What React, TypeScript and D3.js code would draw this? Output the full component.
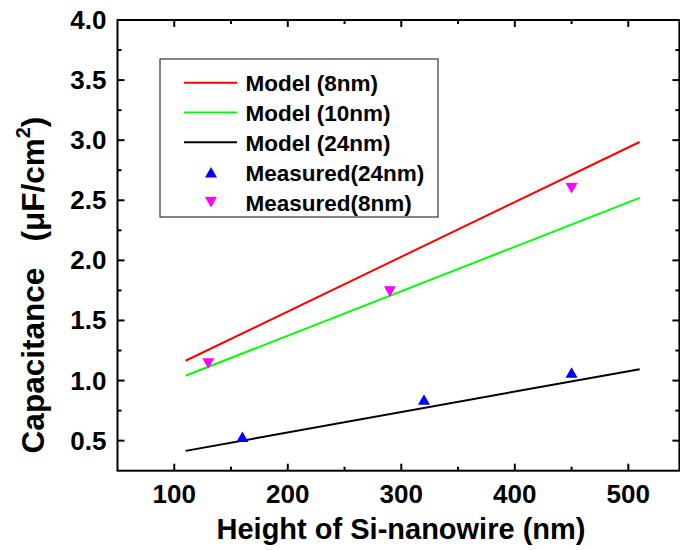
import * as d3 from 'd3'

// model curves (two end points each)
const modelX = [110, 510]
const model8 = [1.165, 2.985]
const model10 = [1.04, 2.52]
const model24 = [0.415, 1.095]

// measured points
const meas24X = [160, 320, 450]
const meas24Y = [0.533, 0.842, 1.067]
const meas8X = [130, 290, 450]
const meas8Y = [1.142, 1.74, 2.6]

const xTicks = [100, 200, 300, 400, 500]
const xMinor = [150, 250, 350, 450]
const yTicks = [0.5, 1.0, 1.5, 2.0, 2.5, 3.0, 3.5, 4.0]
const yMinor = [0.75, 1.25, 1.75, 2.25, 2.75, 3.25, 3.75]

const legendItems = [
    { label: 'Model (8nm)', color: '#FF0000', kind: 'line' },
    { label: 'Model (10nm)', color: '#00FF00', kind: 'line' },
    { label: 'Model (24nm)', color: '#000000', kind: 'line' },
    { label: 'Measured(24nm)', color: '#0000FF', kind: 'up' },
    { label: 'Measured(8nm)', color: '#FF00FF', kind: 'down' },
]

const FONT = "'Liberation Sans', Arial, Helvetica, sans-serif"

const left = 117.5
const right = 679.4
const top = 20
const bottom = 470.7

function tri(cx: number, cy: number, up: boolean) {
    const w = 6
    const h = 5.3
    return up
        ? `M${cx},${cy - h}L${cx + w},${cy + h}L${cx - w},${cy + h}Z`
        : `M${cx},${cy + h}L${cx + w},${cy - h}L${cx - w},${cy - h}Z`
}

export default function App() {
    const x = d3.scaleLinear().domain([50, 545]).range([left, right])
    const y = d3.scaleLinear().domain([0.25, 4.0]).range([bottom, top])

    const line = d3
        .line<number>()
        .x((d, i) => x(modelX[i]))
        .y((d) => y(d))

    const models = [
        { data: model8, color: '#FF0000' },
        { data: model10, color: '#00FF00' },
        { data: model24, color: '#000000' },
    ]

    const legendRows = [82.7, 112.5, 142.3, 172.2, 202.3]

    return (
        <svg
            width={680}
            height={550}
            style={{ position: 'absolute', left: 0, top: 0, background: '#fff' }}
            fontFamily={FONT}
        >
            <rect x={0} y={0} width={680} height={550} fill="#fff" />

            {/* model lines */}
            {models.map((m, i) => (
                <path key={i} d={line(m.data) || ''} fill="none" stroke={m.color} strokeWidth={2} />
            ))}

            {/* measured points */}
            {meas24X.map((v, i) => (
                <path key={'b' + i} d={tri(x(v), y(meas24Y[i]), true)} fill="#0000FF" />
            ))}
            {meas8X.map((v, i) => (
                <path key={'m' + i} d={tri(x(v), y(meas8Y[i]), false)} fill="#FF00FF" />
            ))}

            {/* frame */}
            <rect
                x={left}
                y={top}
                width={right - left}
                height={bottom - top}
                fill="none"
                stroke="#000"
                strokeWidth={2}
            />

            {/* x ticks, bottom and top */}
            {xTicks.map((t) => (
                <g key={'xt' + t}>
                    <line x1={x(t)} x2={x(t)} y1={bottom} y2={bottom - 7} stroke="#000" strokeWidth={2} />
                    <line x1={x(t)} x2={x(t)} y1={top} y2={top + 7} stroke="#000" strokeWidth={2} />
                    <text x={x(t)} y={503} textAnchor="middle" fontSize={26} fontWeight="bold">
                        {t}
                    </text>
                </g>
            ))}
            {xMinor.map((t) => (
                <g key={'xm' + t}>
                    <line x1={x(t)} x2={x(t)} y1={bottom} y2={bottom - 4} stroke="#000" strokeWidth={2} />
                    <line x1={x(t)} x2={x(t)} y1={top} y2={top + 4} stroke="#000" strokeWidth={2} />
                </g>
            ))}

            {/* y ticks, left and right */}
            {yTicks.map((t) => (
                <g key={'yt' + t}>
                    <line x1={left} x2={left + 7} y1={y(t)} y2={y(t)} stroke="#000" strokeWidth={2} />
                    <line x1={right} x2={right - 7} y1={y(t)} y2={y(t)} stroke="#000" strokeWidth={2} />
                    <text x={left - 11} y={y(t) + 9} textAnchor="end" fontSize={26} fontWeight="bold">
                        {t.toFixed(1)}
                    </text>
                </g>
            ))}
            {yMinor.map((t) => (
                <g key={'ym' + t}>
                    <line x1={left} x2={left + 4} y1={y(t)} y2={y(t)} stroke="#000" strokeWidth={2} />
                    <line x1={right} x2={right - 4} y1={y(t)} y2={y(t)} stroke="#000" strokeWidth={2} />
                </g>
            ))}

            {/* axis titles */}
            <text x={401} y={539} textAnchor="middle" fontSize={29} fontWeight="bold">
                Height of Si-nanowire (nm)
            </text>
            <text
                transform="translate(44,285) rotate(-90)"
                textAnchor="middle"
                fontSize={31.5}
                fontWeight="bold"
                style={{ whiteSpace: 'pre' }}
            >
                {'Capacitance   (\u03BCF/cm'}
                <tspan dy={-14} fontSize={20}>
                    2
                </tspan>
                <tspan dy={14}>)</tspan>
            </text>

            {/* legend */}
            <rect x={160} y={59} width={278} height={158} fill="#fff" stroke="#333" strokeWidth={1.2} />
            {legendItems.map((item, i) => {
                const cy = legendRows[i]
                return (
                    <g key={'lg' + i}>
                        {item.kind === 'line' ? (
                            <line x1={184} x2={237} y1={cy} y2={cy} stroke={item.color} strokeWidth={2} />
                        ) : (
                            <path d={tri(211, cy, item.kind === 'up')} fill={item.color} />
                        )}
                        <text x={245.5} y={cy + 8.5} fontSize={22.5} fontWeight="bold">
                            {item.label}
                        </text>
                    </g>
                )
            })}
        </svg>
    )
}
